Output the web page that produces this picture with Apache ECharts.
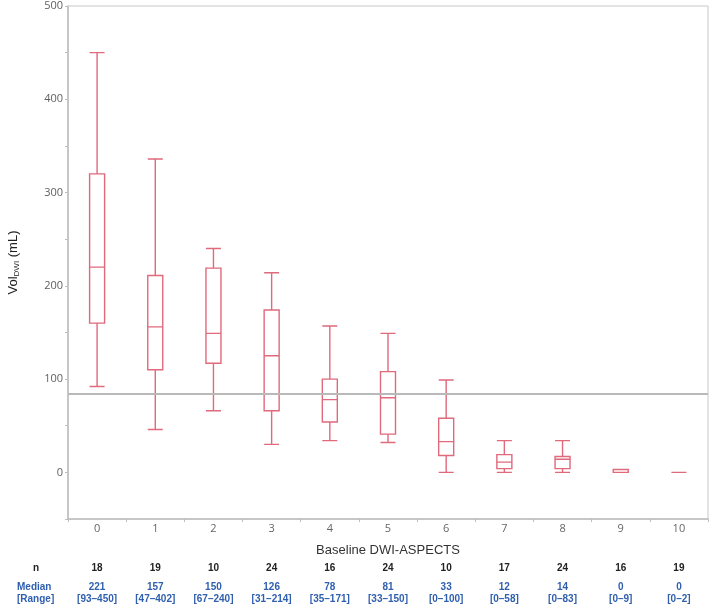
<!DOCTYPE html>
<html>
<head>
<meta charset="utf-8">
<script src="https://cdn.jsdelivr.net/npm/echarts@6/dist/echarts.min.js"></script>
<style>html,body{margin:0;padding:0;background:#fff}#c{width:709px;height:604px}</style>
</head>
<body>
<div id="c"></div>
<script>
var categories = ['0','1','2','3','4','5','6','7','8','9','10'];
// [min whisker, Q1, median, Q3, max whisker]
var boxValues = [
  [92, 160, 220, 320, 450],
  [46, 110, 156, 211, 336],
  [66, 117, 149, 219, 240],
  [30, 66, 125, 174, 214],
  [34, 54, 78, 100, 157],
  [32, 41, 80, 108, 149],
  [0, 18, 33, 58, 99],
  [0, 4, 11, 19, 34],
  [0, 4, 14, 17, 34],
  [0, 0, 0, 3, 3],
  [0, 0, 0, 0, 0]
];
var referenceLine = 84;
var nValues = [18, 19, 10, 24, 16, 24, 10, 17, 24, 16, 19];
var medians = [221, 157, 150, 126, 78, 81, 33, 12, 14, 0, 0];
var ranges = ['93–450','47–402','67–240','31–214','35–171','33–150','0–100','0–58','0–83','0–9','0–2'];
var yTicks = [0, 100, 200, 300, 400, 500];

var chart = echarts.init(document.getElementById('c'));
var blue = '#2f5fae';
chart.setOption({
  animation: false,
  grid: {left: 68, right: 1, top: 6, bottom: 85, show: true, borderColor: '#c8c8c8', borderWidth: 1,
         containLabel: false, outerBoundsMode: 'none'},
  xAxis: [{
    type: 'category',
    data: categories,
    boundaryGap: true,
    axisLine: {onZero: false, lineStyle: {color: '#bdbdbd', width: 1.5}},
    axisTick: {show: true, alignWithLabel: false, length: 3, lineStyle: {color: '#bdbdbd'}},
    axisLabel: {color: '#666', fontSize: 11, fontFamily: 'Open Sans', margin: 4},
    name: 'Baseline DWI-ASPECTS',
    nameLocation: 'middle',
    nameGap: 25,
    nameTextStyle: {color: '#333', fontSize: 13, fontFamily: 'Liberation Sans'},
    splitLine: {show: false}
  }, {
    type: 'category',
    data: categories,
    position: 'bottom',
    axisLine: {show: false, onZero: false},
    axisTick: {show: false},
    axisLabel: {
      margin: 41,
      interval: 0,
      formatter: function (v, i) {
        return '{n|' + nValues[i] + '}\n{m|' + medians[i] + '}\n{r|[' + ranges[i] + ']}';
      },
      rich: {
        n: {fontSize: 10, fontWeight: 'bold', color: '#222', lineHeight: 16, fontFamily: 'Liberation Sans'},
        m: {fontSize: 10, fontWeight: 'bold', color: blue, lineHeight: 22, fontFamily: 'Liberation Sans'},
        r: {fontSize: 10, fontWeight: 'bold', color: blue, lineHeight: 3, fontFamily: 'Liberation Sans'}
      }
    }
  }],
  yAxis: {
    type: 'value',
    min: -50, max: 500, interval: 50,
    axisLine: {show: true, lineStyle: {color: '#bdbdbd', width: 1.5}},
    axisTick: {show: true, length: 3, lineStyle: {color: '#bdbdbd'}},
    axisLabel: {
      color: '#5f5f5f', fontSize: 11, fontFamily: 'Open Sans', margin: 5,
      formatter: function (v) { return yTicks.indexOf(v) >= 0 ? String(v) : ''; }
    },
    splitLine: {show: false},
    name: 'Vol{s|DWI} (mL)',
    nameLocation: 'middle',
    nameGap: 47,
    nameTextStyle: {
      color: '#222', fontSize: 13, fontFamily: 'Liberation Sans',
      rich: {s: {fontSize: 8, color: '#222', fontFamily: 'Liberation Sans', padding: [7, 0, 0, 0]}}
    }
  },
  series: [{
    type: 'boxplot',
    data: boxValues,
    boxWidth: [15, 15],
    itemStyle: {color: '#fff', borderColor: '#e0697c', borderWidth: 1.4},
    markLine: {
      silent: true,
      symbol: ['none', 'none'],
      label: {show: false},
      lineStyle: {color: '#b9b9b9', width: 2, type: 'solid'},
      data: [{yAxis: referenceLine}]
    }
  }],
  graphic: [
    {type: 'text', left: 33, top: 563, style: {text: 'n', font: 'bold 10px "Liberation Sans"', fill: '#222'}},
    {type: 'text', left: 17, top: 582, style: {text: 'Median', font: 'bold 10px "Liberation Sans"', fill: blue}},
    {type: 'text', left: 17, top: 594, style: {text: '[Range]', font: 'bold 10px "Liberation Sans"', fill: blue}}
  ]
});
</script>
</body>
</html>
